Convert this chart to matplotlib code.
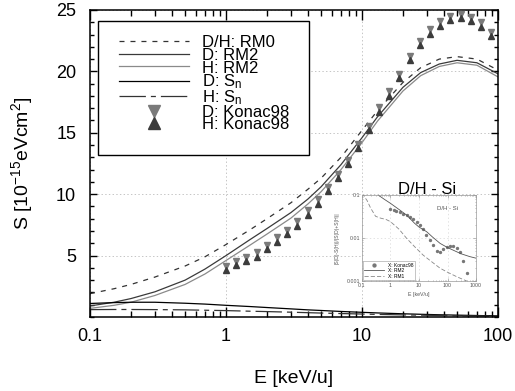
import numpy as np
import matplotlib
matplotlib.use('Agg')
import matplotlib.pyplot as plt
from matplotlib.ticker import MultipleLocator, LogLocator, NullFormatter
from matplotlib.patches import Rectangle

plt.rcParams['font.family'] = ['Liberation Sans', 'DejaVu Sans']
plt.rcParams['mathtext.fontset'] = 'custom'
plt.rcParams['mathtext.rm'] = 'Liberation Sans'
plt.rcParams['mathtext.it'] = 'Liberation Sans:italic'
plt.rcParams['lines.scale_dashes'] = False

# calculated stopping cross sections, E in keV/u, S in 1e-15 eVcm^2
E_calc = [0.1, 0.15, 0.2, 0.3, 0.5, 0.7, 1, 1.5, 2, 3, 4, 5, 7, 10, 13, 20, 27, 37, 50, 70, 100]
S_rm0 = [1.9, 2.3, 2.65, 3.25, 4.15, 4.9, 5.9, 7.1, 8.0, 9.3, 10.4, 11.3, 13.0, 15.2, 16.8, 19.1, 20.3, 21.0, 21.2, 21.0, 20.1]
S_rm2_D = [0.9, 1.2, 1.5, 2.05, 3.0, 3.9, 5.0, 6.3, 7.2, 8.5, 9.6, 10.6, 12.4, 14.6, 16.3, 18.7, 19.9, 20.6, 20.9, 20.7, 19.8]
S_rm2_H = [0.7, 0.95, 1.2, 1.75, 2.65, 3.5, 4.6, 5.85, 6.75, 8.05, 9.2, 10.2, 12.0, 14.2, 15.95, 18.4, 19.65, 20.4, 20.7, 20.5, 19.55]
Sn_D = [1.1, 1.17, 1.2, 1.2, 1.12, 1.05, 0.95, 0.85, 0.77, 0.66, 0.58, 0.53, 0.45, 0.38, 0.33, 0.26, 0.22, 0.18, 0.15, 0.12, 0.09]
Sn_H = [0.6, 0.61, 0.61, 0.6, 0.58, 0.55, 0.52, 0.47, 0.44, 0.39, 0.35, 0.32, 0.28, 0.24, 0.21, 0.17, 0.15, 0.12, 0.1, 0.08, 0.06]

# Konac98 measurements
E_konac = [1.0, 1.18, 1.41, 1.68, 2.0, 2.37, 2.82, 3.35, 4.0, 4.75, 5.6, 6.7, 7.9, 9.4,
           11.2, 13.3, 15.8, 18.8, 22.4, 26.6, 31.6, 37.6, 44.7, 53, 63, 75, 89]
S_konac_D = [4.18, 4.58, 4.88, 5.28, 5.88, 6.48, 7.08, 7.78, 8.68, 9.58, 10.58, 11.68, 12.78, 14.08,
             15.58, 17.08, 18.38, 19.78, 21.28, 22.48, 23.43, 24.08, 24.53, 24.68, 24.43, 23.98, 23.23]
S_konac_H = [3.82, 4.22, 4.52, 4.92, 5.52, 6.12, 6.72, 7.42, 8.32, 9.22, 10.22, 11.32, 12.42, 13.72,
             15.22, 16.72, 18.02, 19.42, 20.92, 22.12, 23.07, 23.72, 24.17, 24.32, 24.07, 23.62, 22.87]

# relative isotope effect |S(D)-S(H)|/|S(D)+S(H)|
E_ins_konac = [1.0, 1.3, 1.6, 2.1, 2.8, 3.7, 4.8, 6.3, 8.3, 11, 14, 18, 24, 32, 42, 55,
               71, 93, 120, 160, 210, 270, 350, 470]
R_konac = [0.047, 0.045, 0.043, 0.040, 0.037, 0.034, 0.031, 0.028, 0.024, 0.020, 0.016, 0.012,
           0.009, 0.0068, 0.0050, 0.0047, 0.0056, 0.0062, 0.0065, 0.0064, 0.0060, 0.0048, 0.0030, 0.0015]
E_ins_rm2 = [0.3, 0.37, 0.6, 1, 2, 3.7, 7, 10, 18.6, 30, 55, 100, 160, 300, 600, 1000]
R_rm2 = [0.12, 0.1, 0.08, 0.064, 0.046, 0.034, 0.022, 0.018, 0.014, 0.0105, 0.0075, 0.006, 0.0052, 0.0043, 0.0037, 0.0034]
E_ins_rm1 = [0.1, 0.15, 0.2, 0.3, 0.45, 0.7, 1.0, 2, 3.7, 7, 14, 30, 54, 100, 210, 470, 700]
R_rm1 = [0.11, 0.075, 0.05, 0.032, 0.029, 0.027, 0.024, 0.016, 0.0098, 0.0063, 0.004, 0.0027, 0.002, 0.0016, 0.00126, 0.001, 0.0009]

fig = plt.figure(figsize=(5.15, 3.91), dpi=100)
ax = fig.add_axes([0.1748, 0.1893, 0.7922, 0.7852])

ax.plot(E_calc, S_rm0, color='#333333', lw=0.9, dashes=(3.6, 4.3), label='D/H: RM0', zorder=2)
ax.plot(E_calc, S_rm2_D, color='#3a3a3a', lw=0.9, label='D: RM2', zorder=2)
ax.plot(E_calc, S_rm2_H, color='#8a8a8a', lw=0.9, label='H: RM2', zorder=2)
ax.plot(E_calc, Sn_D, color='black', lw=0.9, label='D: S$_\\mathrm{n}$', zorder=2)
ax.plot(E_calc, Sn_H, color='#333333', lw=0.9, dashes=(19, 3.6, 3.6, 3.6), label='H: S$_\\mathrm{n}$', zorder=2)
ax.plot(E_konac, S_konac_D, 'v', ms=4.8, color='#7a7a7a', ls='none', label='D: Konac98',
        zorder=3, clip_on=False)
ax.plot(E_konac, S_konac_H, '^', ms=4.8, color='#3c3c3c', ls='none', label='H: Konac98',
        zorder=3, clip_on=False)

ax.set_xscale('log')
ax.set_xlim(0.1, 100)
ax.set_ylim(0, 25)
ax.set_xticks([0.1, 1, 10, 100])
ax.set_xticklabels(['0.1', '1', '10', '100'])
ax.xaxis.set_minor_locator(LogLocator(base=10, subs=np.arange(2, 10)))
ax.xaxis.set_minor_formatter(NullFormatter())
ax.set_yticks([5, 10, 15, 20, 25])
ax.yaxis.set_minor_locator(MultipleLocator(1))
ax.tick_params(which='both', direction='in', top=True, right=True, width=1.0)
ax.tick_params(axis='x', which='major', length=7, pad=8, labelsize=13)
ax.tick_params(axis='x', which='minor', length=4.5)
ax.tick_params(axis='y', which='major', length=5, pad=10, labelsize=13)
ax.tick_params(axis='y', which='minor', length=3)
for sp in ax.spines.values():
    sp.set_linewidth(1.1)
ax.grid(True, which='major', ls=':', color='#bbbbbb', lw=0.6)

ax.set_xlabel('E [keV/u]', fontsize=14, labelpad=18)
ax.set_ylabel('S [10$^{\\mathrm{-15}}$eVcm$^{\\mathrm{2}}$]', fontsize=14, labelpad=15)

# legend with its own frame
ax.add_patch(Rectangle((0.0196, 0.5277), 0.5172, 0.4365, transform=ax.transAxes,
                       facecolor='white', edgecolor='black', lw=1.0, zorder=4))
leg = ax.legend(loc='upper left', bbox_to_anchor=(0.071, 0.9185), frameon=False,
                borderpad=0, borderaxespad=0, fontsize=12, handlelength=4.2,
                handleheight=0.85, handletextpad=0.78, labelspacing=-0.17,
                markerscale=1.9)
leg.set_zorder(5)

ax.text(0.826, 0.414, 'D/H - Si', transform=ax.transAxes, fontsize=12,
        ha='center', va='center')

# white area under the inset
ax.add_patch(Rectangle((0.633, 0.2276), 0.299, 0.2967, transform=fig.transFigure,
                       facecolor='white', edgecolor='none', zorder=1.5, clip_on=False))

# inset: relative difference D vs H
ins = fig.add_axes([0.7029, 0.2813, 0.2214, 0.2199])
ins.plot(E_ins_konac, R_konac, 'o', ms=1.4, color='#777777', ls='none', label='X: Konac98')
ins.plot(E_ins_rm2, R_rm2, color='#555555', lw=0.6, label='X: RM2')
ins.plot(E_ins_rm1, R_rm1, color='#888888', lw=0.6, dashes=(3, 1.5), label='X: RM1')
ins.set_xscale('log')
ins.set_yscale('log')
ins.set_xlim(0.1, 1000)
ins.set_ylim(0.001, 0.1)
ins.set_xticks([0.1, 1, 10, 100, 1000])
ins.set_xticklabels(['0.1', '1', '10', '100', '1000'])
ins.set_yticks([0.001, 0.01, 0.1])
ins.set_yticklabels(['0.001', '0.01', '0.1'])
ins.xaxis.set_minor_locator(LogLocator(base=10, subs=np.arange(2, 10)))
ins.yaxis.set_minor_locator(LogLocator(base=10, subs=np.arange(2, 10)))
ins.xaxis.set_minor_formatter(NullFormatter())
ins.yaxis.set_minor_formatter(NullFormatter())
ins.tick_params(which='both', direction='in', top=True, right=True, width=0.4,
                color='#888888', labelcolor='#555555', labelsize=3.8, pad=1.5)
ins.tick_params(which='major', length=2)
ins.tick_params(which='minor', length=1)
for sp in ins.spines.values():
    sp.set_linewidth(0.5)
    sp.set_color('#999999')
ins.grid(True, which='major', ls=':', color='#cccccc', lw=0.4)
ins.set_xlabel('E [keV/u]', fontsize=3.8, color='#555555', labelpad=3)
ins.set_ylabel('|S(D)-S(H)|/|S(D)+S(H)|', fontsize=3.6, color='#555555', labelpad=5)
ins.text(0.746, 0.849, 'D/H - Si', transform=ins.transAxes, fontsize=4.3,
         color='#555555', ha='center', va='center')
ins.legend(loc='lower left', fontsize=3.5, handlelength=4, labelspacing=0.1,
           borderpad=0.3, borderaxespad=0.2, fancybox=False, edgecolor='#999999',
           framealpha=1, markerscale=1.5).get_frame().set_linewidth(0.4)

fig.savefig('out.png', dpi=100)
